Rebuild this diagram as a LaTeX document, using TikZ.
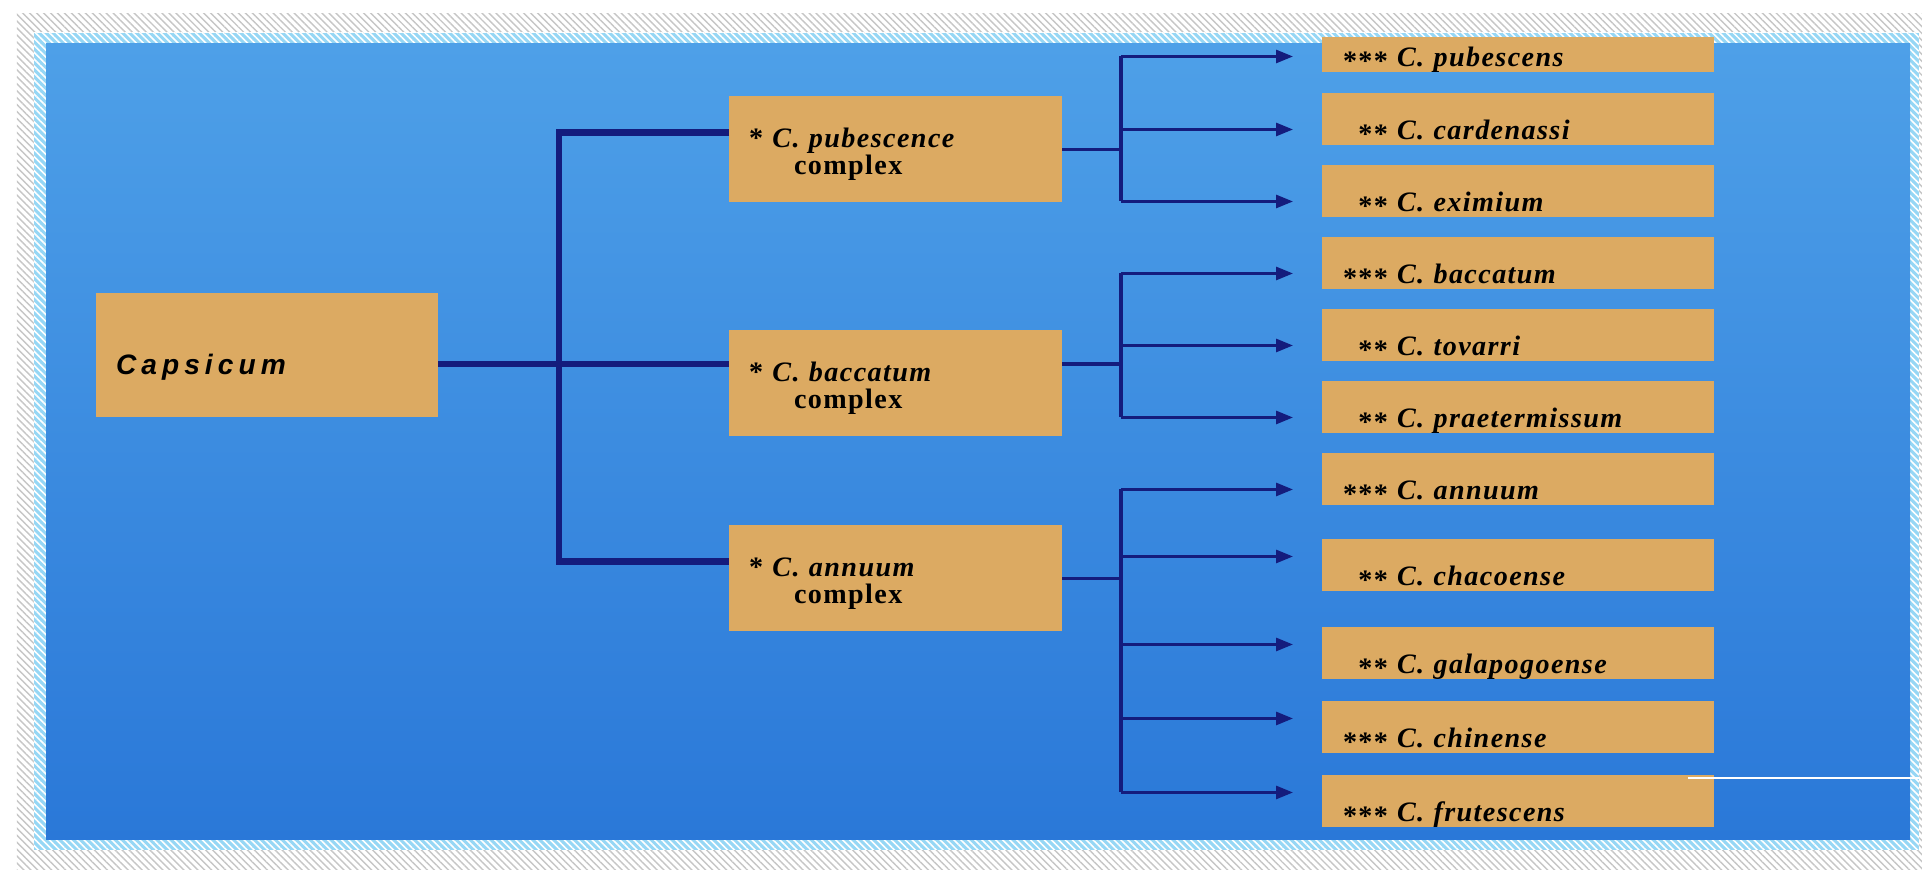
\documentclass[tikz,border=0pt]{standalone}
\usepackage{fontspec}
\newfontfamily\taxfam[LetterSpace=5]{Liberation Serif}
\newfontfamily\genfam[LetterSpace=18]{Liberation Sans}
\usetikzlibrary{arrows.meta,positioning,patterns.meta}
\definecolor{navy}{RGB}{20,28,125}
\definecolor{sand}{RGB}{220,170,98}
\definecolor{skytop}{RGB}{78,160,232}
\definecolor{skybot}{RGB}{42,120,216}
\definecolor{rim}{RGB}{150,215,245}
\newcommand\taxon[2]{\makebox[0.46cm][r]{\raisebox{-0.3ex}{#1}}\hspace{0.09cm}\textit{C. #2}}

\begin{document}
\begin{tikzpicture}[
  every node/.style={outer sep=0pt},
  genus/.style={fill=sand,inner xsep=0.2cm,inner ysep=0pt,text width=3.02cm,
    align=left,text height=0.82cm,text depth=0.42cm,
    font=\genfam\bfseries\itshape\fontsize{8}{9}\selectfont},
  cplx/.style={fill=sand,inner xsep=0.2cm,inner ysep=0pt,text width=2.93cm,
    align=left,text height=0.51cm,text depth=0.55cm,
    font=\taxfam\bfseries\fontsize{8}{7.7}\selectfont},
  leaf/.style={fill=sand,inner xsep=0.2cm,inner ysep=0pt,text width=3.52cm,
    align=left,text height=0.465cm,text depth=0.055cm,
    font=\taxfam\bfseries\fontsize{8}{8}\selectfont},
  trunk/.style={draw=navy,line width=1.8pt},
  link/.style={draw=navy,line width=1pt},
  arr/.style={draw=navy,line width=0.8pt,-{Triangle[length=0.17cm,width=0.13cm]},
    shorten >=0.29cm}]
\useasboundingbox (0,0) rectangle (19.22,8.81);
% frame
\fill[white] (0,0) rectangle (19.22,8.81);
\fill[pattern={Lines[angle=-45,distance=1.4pt,line width=0.4pt]},pattern color=gray!45]
  (0.17,0.11) rectangle (19.22,8.67);
\fill[rim] (0.34,0.31) rectangle (19.19,8.48);
\fill[pattern={Lines[angle=-45,distance=1.4pt,line width=0.45pt]},pattern color=white]
  (0.34,0.31) rectangle (19.19,8.48);
\shade[top color=skytop,bottom color=skybot] (0.46,0.41) rectangle (19.10,8.37);

\node[genus] (caps) at (2.67,5.26) {Capsicum};
\node[cplx,right=2.91cm of caps,yshift=-0.285cm] (cbac)
  {*~\textit{C. baccatum}\\\hspace*{0.45cm}complex};
\node[cplx,above=1.28cm of cbac] (cpub)
  {*~\textit{C. pubescence}\\\hspace*{0.45cm}complex};
\node[cplx,below=0.89cm of cbac] (cann)
  {*~\textit{C. annuum}\\\hspace*{0.45cm}complex};

\node[leaf,anchor=north west,text height=0.295cm] (pbs) at (13.22,8.44) {\taxon{***}{pubescens}};
\node[leaf,below=0.21cm of pbs] (card) {\taxon{**}{cardenassi}};
\node[leaf,below=0.2cm of card] (exi) {\taxon{**}{eximium}};
\node[leaf,below=0.2cm of exi] (bac) {\taxon{***}{baccatum}};
\node[leaf,below=0.2cm of bac] (tov) {\taxon{**}{tovarri}};
\node[leaf,below=0.2cm of tov] (pra) {\taxon{**}{praetermissum}};
\node[leaf,below=0.2cm of pra] (ann) {\taxon{***}{annuum}};
\node[leaf,below=0.34cm of ann] (cha) {\taxon{**}{chacoense}};
\node[leaf,below=0.36cm of cha] (gal) {\taxon{**}{galapogoense}};
\node[leaf,below=0.22cm of gal] (chi) {\taxon{***}{chinense}};
\node[leaf,below=0.22cm of chi] (fru) {\taxon{***}{frutescens}};
\draw[white,line width=0.4pt] (16.88,1.03) -- (19.19,1.03);

% trunk and forks
\coordinate[right=1.21cm of caps.east,yshift=-0.09cm] (trk);
\coordinate[right=0.59cm of cpub.east] (fkA);
\coordinate (fkB) at (fkA |- trk);
\coordinate[right=0.59cm of cann.east] (fkC);

\draw[trunk] (caps.east |- trk) -- (cbac.west |- trk);
\draw[trunk] ([yshift=0.17cm]cpub.west) -| (trk) |- ([yshift=0.17cm]cann.west);

\draw[link] (cpub.east) -- (fkA);
\draw[link] (cbac.east |- trk) -- (fkB);
\draw[link] (cann.east) -- (fkC);
\draw[link] ([yshift=0.1cm]pbs.base west -| fkA) -- ([yshift=0.1cm]exi.base west -| fkA);
\draw[link] ([yshift=0.1cm]bac.base west -| fkB) -- ([yshift=0.1cm]pra.base west -| fkB);
\draw[link] ([yshift=0.1cm]ann.base west -| fkC) -- ([yshift=0.29cm]fru.base west -| fkC);

\foreach \L/\F/\up in {pbs/fkA/0.1,card/fkA/0.1,exi/fkA/0.1,bac/fkB/0.1,tov/fkB/0.1,
    pra/fkB/0.1,ann/fkC/0.1,cha/fkC/0.29,gal/fkC/0.29,chi/fkC/0.29,fru/fkC/0.29}
  \draw[arr] ([yshift=\up cm]\L.base west -| \F) -- ([yshift=\up cm]\L.base west);
\end{tikzpicture}
\end{document}
